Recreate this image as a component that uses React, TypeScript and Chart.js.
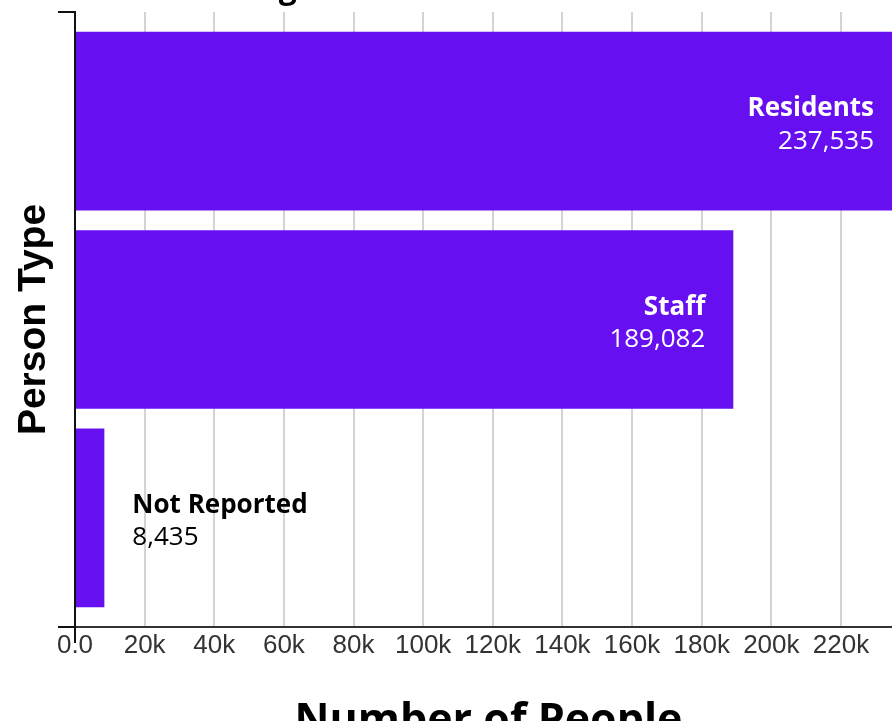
import React, { useEffect, useRef } from "react";
import { Chart, registerables } from "chart.js";

Chart.register(...registerables);

// ---- Data ----
const categories = ["Residents", "Staff", "Not Reported"];
const peopleCounts = [237535, 189082, 8435];
const xTickValues = [0, 20000, 40000, 60000, 80000, 100000, 120000, 140000, 160000, 180000, 200000, 220000];
const xTickLabels = ["0.0", "20k", "40k", "60k", "80k", "100k", "120k", "140k", "160k", "180k", "200k", "220k"];
const chartTitle = "Vaccinated Among Residents and Staff";
const xAxisTitle = "Number of People";
const yAxisTitle = "Person Type";

const BAR_COLOR = "#6610F2";
const LABEL_FONT = "'Open Sans', 'Noto Sans', sans-serif";
const AXIS_FONT = "'Liberation Sans', Arial, sans-serif";

const barLabelPlugin = {
  id: "barLabels",
  afterDatasetsDraw(chart: any) {
    const ctx = chart.ctx;
    const meta = chart.getDatasetMeta(0);
    ctx.save();
    meta.data.forEach((el: any, i: number) => {
      const name = categories[i];
      const val = peopleCounts[i].toLocaleString("en-US");
      const boldFont = `bold 26px ${LABEL_FONT}`;
      const normFont = `26px ${LABEL_FONT}`;
      ctx.font = boldFont;
      const w1 = ctx.measureText(name).width;
      ctx.font = normFont;
      const w2 = ctx.measureText(val).width;
      const w = Math.max(w1, w2);
      const pad = 28;
      const inside = el.x - el.base > w + 2 * pad;
      const x = inside ? el.x - pad : el.x + pad;
      ctx.textAlign = inside ? "right" : "left";
      ctx.textBaseline = "alphabetic";
      ctx.fillStyle = inside ? "#ffffff" : "#000000";
      ctx.font = boldFont;
      ctx.fillText(name, x, el.y - 5);
      ctx.font = normFont;
      ctx.fillText(val, x, el.y + 27.5);
    });
    ctx.restore();
  },
};

export default function App() {
  const canvasRef = useRef<HTMLCanvasElement | null>(null);

  useEffect(() => {
    if (!canvasRef.current) return;
    const chart = new Chart(canvasRef.current, {
      type: "bar",
      data: {
        labels: categories,
        datasets: [
          {
            data: peopleCounts.map((v, i) => ({ x: v, y: i })) as any,
            backgroundColor: BAR_COLOR,
            borderWidth: 0,
            barPercentage: 0.9,
            categoryPercentage: 1,
          },
        ],
      },
      options: {
        indexAxis: "y",
        animation: false,
        responsive: false,
        devicePixelRatio: 1,
        layout: { padding: { left: 0, right: 8, top: 0, bottom: 0 } },
        plugins: {
          legend: { display: false },
          tooltip: { enabled: false },
          title: {
            display: true,
            text: chartTitle,
            align: "start",
            color: "#000",
            font: { family: LABEL_FONT, weight: "bold", size: 32 },
            padding: { top: 29.4, bottom: 4.2 },
          },
        },
        scales: {
          x: {
            type: "linear",
            min: 0,
            max: Math.max(...peopleCounts),
            afterBuildTicks: (s: any) => {
              s.ticks = xTickValues.map((v) => ({ value: v }));
            },
            afterFit: (s: any) => {
              s.height = 133;
            },
            ticks: {
              autoSkip: false,
              maxRotation: 0,
              color: "#333",
              padding: -13,
              font: { family: AXIS_FONT, size: 26 },
              callback: (v: any) => {
                const idx = xTickValues.indexOf(Number(v));
                return idx >= 0 ? xTickLabels[idx] : "";
              },
            },
            grid: {
              color: "#d4d4d4",
              lineWidth: 2,
              drawTicks: true,
              tickLength: 16,
              tickWidth: 2,
              tickColor: (c: any) => (c.tick && c.tick.value === 0 ? "#111" : "rgba(0,0,0,0)"),
            },
            border: { display: true, color: "#333", width: 2 },
            title: {
              display: true,
              text: xAxisTitle,
              color: "#000",
              font: { family: LABEL_FONT, weight: "bold", size: 43 },
              padding: { top: 0, bottom: 12 },
            },
          },
          y: {
            type: "linear",
            min: -0.55,
            max: 2.55,
            reverse: true,
            offset: false,
            afterBuildTicks: (s: any) => {
              s.ticks = [{ value: s.min }, { value: s.max }];
            },
            afterFit: (s: any) => {
              s.width = 75;
            },
            ticks: { display: false },
            grid: {
              offset: false,
              drawOnChartArea: false,
              drawTicks: true,
              tickLength: 17,
              color: "#111",
              lineWidth: 2,
            },
            border: { display: true, color: "#111", width: 2 },
            title: {
              display: true,
              text: yAxisTitle,
              color: "#000",
              font: { family: AXIS_FONT, weight: "bold", size: 39 },
              padding: { top: 11, bottom: 0 },
            },
          },
        },
      },
      plugins: [barLabelPlugin],
    });
    return () => chart.destroy();
  }, []);

  return (
    <div
      style={{
        position: "fixed",
        left: 0,
        top: 0,
        width: 892,
        height: 721,
        overflow: "hidden",
        background: "#fff",
      }}
    >
      <div style={{ position: "absolute", left: 0, top: -60, width: 910, height: 820 }}>
        <canvas ref={canvasRef} width={910} height={820} style={{ display: "block" }} />
      </div>
    </div>
  );
}
